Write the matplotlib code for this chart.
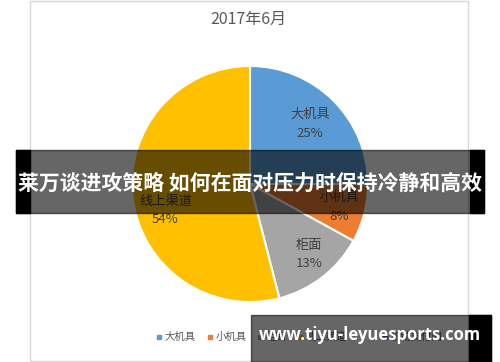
import matplotlib
matplotlib.use("Agg")
import matplotlib.pyplot as plt
from matplotlib.patches import Rectangle
import numpy as np

plt.rcParams['font.family'] = ['Noto Sans CJK SC', 'DejaVu Sans']

# chart data
title = "2017年6月"
categories = ["大机具", "小机具", "柜面", "线上渠道"]
shares = [25, 8, 13, 54]
colors = ["#5B9BD5", "#ED7D31", "#A5A5A5", "#FFC000"]
extra_legend = "移动支付网"
extra_color = "#4472C4"

banner_text = "莱万谈进攻策略 如何在面对压力时保持冷静和高效"
site_text = "www.tiyu-leyuesports.com"

W, H = 500, 362
fig = plt.figure(figsize=(W / 100, H / 100), dpi=100)
fig.patch.set_facecolor("white")

def px(x0, y0, w, h):
    # pixel box (top-left origin) -> figure fraction
    return [x0 / W, 1 - (y0 + h) / H, w / W, h / H]

# chart frame
fr = px(30, 0.5, 438, 360)
fig.patches.append(Rectangle((fr[0], fr[1]), fr[2], fr[3], transform=fig.transFigure,
                             fill=False, edgecolor="#D9D9D9", linewidth=1))

fig.text(248 / W, 1 - 19 / H, title, ha="center", va="center",
         fontsize=11.5, color="#595959")

# pie
cx, cy, r = 250, 184, 118
ax = fig.add_axes(px(cx - r, cy - r, 2 * r, 2 * r))
wedges, texts = ax.pie(shares, colors=colors, startangle=90, counterclock=False,
                       radius=1, wedgeprops=dict(edgecolor="white", linewidth=1.5))
ax.set_xlim(-1, 1)
ax.set_ylim(-1, 1)
ax.axis("off")

# label placement (distance from centre, angle nudge in degrees)
label_dist = [0.72, 0.78, 0.78, 0.75]
label_nudge = [0, 0, 2, 10]
cum = np.cumsum([0] + shares)
for i, (name, v) in enumerate(zip(categories, shares)):
    mid = np.deg2rad(90 - 360 * (cum[i] + v / 2) / 100 + label_nudge[i])
    d = label_dist[i]
    ax.text(d * np.cos(mid), d * np.sin(mid), f"{name}\n{v}%", ha="center", va="center",
            fontsize=9.5, color="#404040", linespacing=1.55)

# legend
leg_x = [157, 208, 258, 298, 383]
leg_labels = categories + [extra_legend]
leg_colors = colors + [extra_color]
for x, lab, c in zip(leg_x, leg_labels, leg_colors):
    fig.patches.append(Rectangle((x / W, 1 - 339 / H), 4 / W, 4 / H,
                                 transform=fig.transFigure, color=c))
    fig.text((x + 8) / W, 1 - 337 / H, lab, ha="left", va="center",
             fontsize=7.5, color="#595959")

# banner overlay
fig.patches.append(Rectangle((16 / W, 1 - 213 / H), 468 / W, 63 / H,
                             transform=fig.transFigure, color="black", alpha=0.6, zorder=5))
fig.patches.append(Rectangle((16 / W, 1 - 213 / H), 14 / W, 63 / H,
                             transform=fig.transFigure, color="black", zorder=5))
fig.patches.append(Rectangle((470 / W, 1 - 213 / H), 14 / W, 63 / H,
                             transform=fig.transFigure, color="black", zorder=5))
fig.text(250 / W, 1 - 183 / H, banner_text, ha="center", va="center",
         fontsize=15, fontweight="bold", color="white", zorder=6)

# site box
fig.patches.append(Rectangle((251 / W, 0), 240 / W, 47 / H,
                             transform=fig.transFigure, color="black", alpha=0.6, zorder=5))
fig.patches.append(Rectangle((469 / W, 0), 22 / W, 47 / H,
                             transform=fig.transFigure, color="black", zorder=5))
fig.text(370 / W, 1 - 335 / H, site_text, ha="center", va="center",
         fontsize=12, fontweight="bold", color="white", zorder=6,
         family=["Open Sans", "DejaVu Sans"])

fig.savefig("out.png", dpi=100)
